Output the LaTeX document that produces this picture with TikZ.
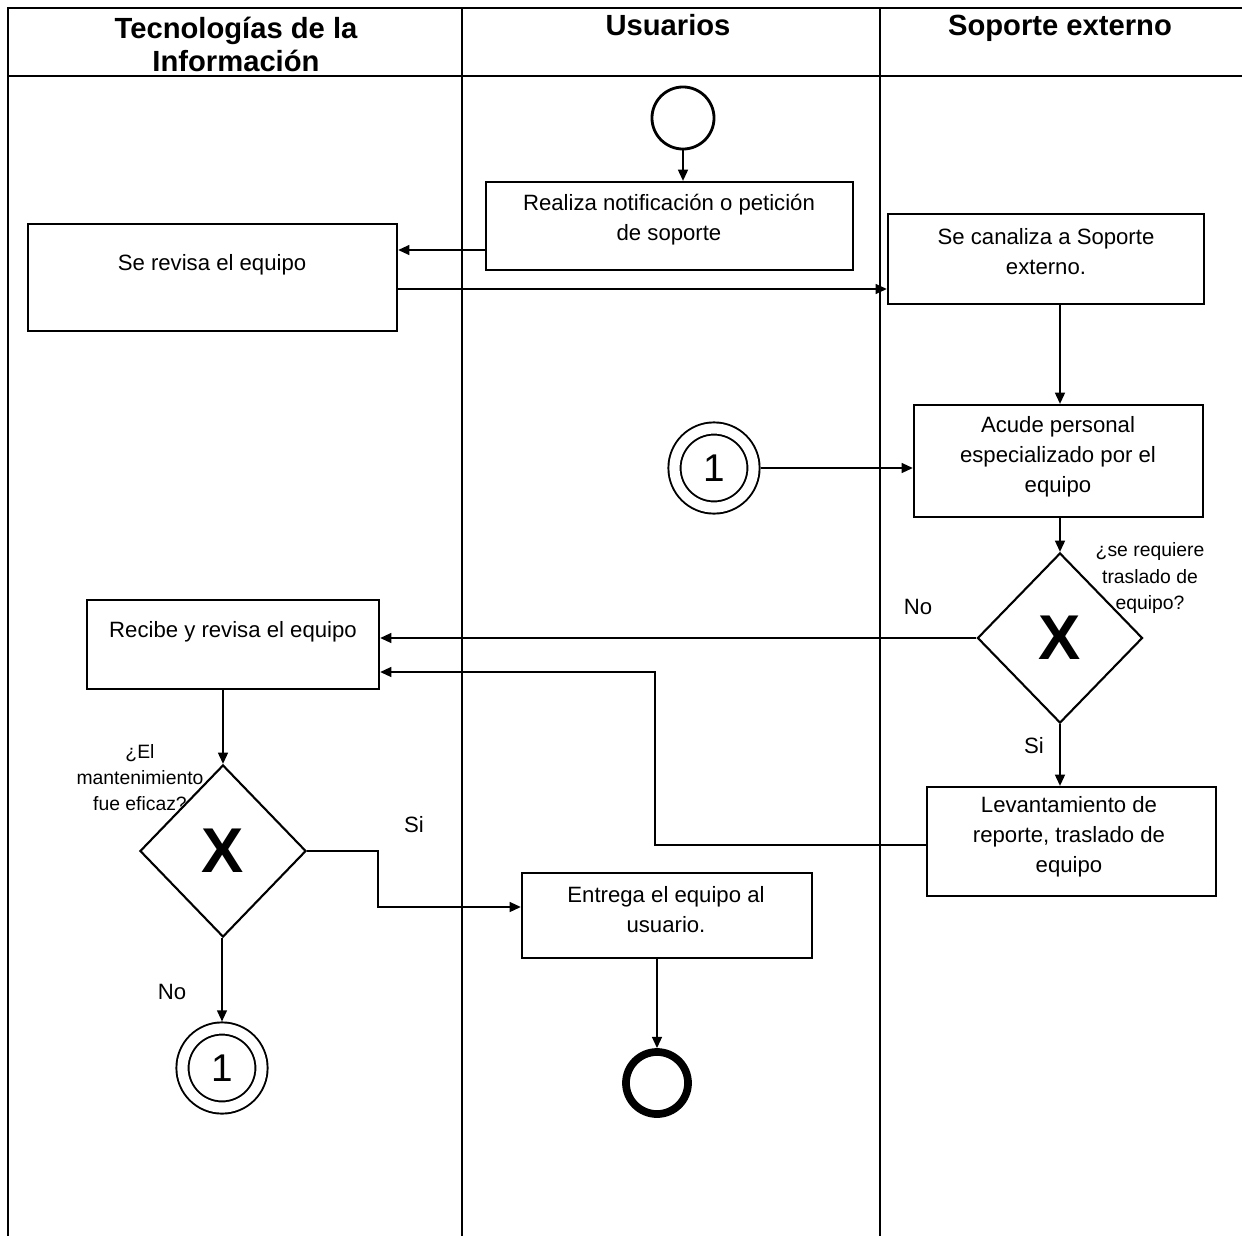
\documentclass[tikz,border=0pt]{standalone}
\usepackage{fontspec}
\setmainfont{Liberation Sans}
\usetikzlibrary{shapes.geometric,arrows.meta}
\begin{document}
\begin{tikzpicture}[x=0.01cm,y=-0.01cm,
  lane/.style={line width=0.8pt},
  box/.style={draw,line width=0.6pt,inner sep=0pt},
  txt/.style={align=center,font=\fontsize{6.3}{8.5}\selectfont,inner sep=0pt},
  small/.style={align=center,font=\fontsize{5.5}{7.4}\selectfont,inner sep=0pt},
  head/.style={align=center,font=\fontsize{8.3}{9.4}\selectfont\bfseries,inner sep=0pt},
  headone/.style={head,text height=0.75em,text depth=0.25em},
  gate/.style={draw,diamond,line width=0.6pt,inner sep=0pt,font=\fontsize{18}{20}\selectfont\bfseries},
  link/.style={circle,draw,double,double distance=2.9pt,line width=0.55pt,inner sep=0pt,font=\fontsize{11}{12}\selectfont},
  arr/.style={line width=0.55pt,-{Triangle[length=3.2pt,width=2.8pt]}}
]
\useasboundingbox (0,0) rectangle (1242,1236);
% lanes
\draw[lane] (8,1236) -- (8,8) -- (1242,8);
\draw[lane] (8,76) -- (1242,76);
\draw[lane] (462,8) -- (462,1236);
\draw[lane] (880,8) -- (880,1236);
\node[head] (h1) at (236,44) {Tecnologías de la\\Información};
\node[headone] (h2) at (668,27) {Usuarios};
\node[headone] (h3) at (1060,27) {Soporte externo};
% events
\node[circle,draw,line width=0.8pt,minimum size=0.62cm,inner sep=0pt] (start) at (683,118) {};
\node[circle,draw,line width=2.2pt,minimum size=0.62cm,inner sep=0pt] (end) at (657,1083) {};
\node[link,minimum size=0.79cm] (c1a) at (714,468) {1};
\node[link,minimum size=0.79cm] (c1b) at (222,1068) {1};
% boxes
\node[box,minimum width=3.67cm,minimum height=0.88cm] (realiza) at (669.5,226) {};
\node[txt] (trealiza) at (669,220) {Realiza notificación o petición\\de soporte};
\node[box,minimum width=3.69cm,minimum height=1.07cm] (revisa) at (212.5,277.5) {};
\node[txt] (trevisa) at (212,265) {Se revisa el equipo};
\node[box,minimum width=3.16cm,minimum height=0.90cm] (canaliza) at (1046,259) {};
\node[txt] (tcanaliza) at (1046,252) {Se canaliza a Soporte\\externo.};
\node[box,minimum width=2.89cm,minimum height=1.12cm] (acude) at (1058.5,461) {};
\node[txt] (tacude) at (1058,457) {Acude personal\\especializado por el\\equipo};
\node[gate,minimum width=1.65cm,minimum height=1.70cm] (d1) at (1060,638) {X};
\node[box,minimum width=2.89cm,minimum height=1.09cm] (levanta) at (1071.5,841.5) {};
\node[txt] (tlevanta) at (1069,837) {Levantamiento de\\reporte, traslado de\\equipo};
\node[box,minimum width=2.92cm,minimum height=0.89cm] (recibe) at (233,644.5) {};
\node[txt] (trecibe) at (233,632) {Recibe y revisa el equipo};
\node[gate,minimum width=1.66cm,minimum height=1.72cm] (d2) at (223,851) {X};
\node[box,minimum width=2.90cm,minimum height=0.85cm] (entrega) at (667,915.5) {};
\node[txt] (tentrega) at (666,910) {Entrega el equipo al\\usuario.};
% labels
\node[small] (q1) at (1150,578) {¿se requiere\\traslado de\\equipo?};
\node[small] (q2) at (140,778) {¿El\\mantenimiento\\fue eficaz?};
\node[txt] (no1) at (918,607) {No};
\node[txt] (si1) at (1034,746) {Si};
\node[txt] (si2) at (414,825) {Si};
\node[txt] (no2) at (172,992) {No};
% connectors
\draw[arr] (start) -- (start |- realiza.north);
\draw[arr] (realiza.west |- 0,250) -- (revisa.east |- 0,250);
\draw[arr] (revisa.east |- 0,289) -- (canaliza.west |- 0,289);
\draw[arr] (canaliza.south -| d1.north) -- (acude.north -| d1.north);
\draw[arr] ([xshift=0.06cm]c1a.east) -- (c1a.east -| acude.west);
\draw[arr] (acude.south -| d1.north) -- (d1.north);
\draw[arr] (d1.west) -- (d1.west -| recibe.east);
\draw[arr] (d1.south) -- (d1.south |- levanta.north);
\draw[arr] (levanta.west |- 0,845) -- (655,845) -- (655,672) -- (recibe.east |- 0,672);
\draw[arr] (recibe.south -| d2.north) -- (d2.north);
\draw[arr] (d2.east) -- (378,851) -- (378,907) -- (entrega.west |- 0,907);
\draw[arr] (d2.south -| c1b.north) -- ([yshift=0.06cm]c1b.north);
\draw[arr] (end.north |- entrega.south) -- (end.north);
\end{tikzpicture}
\end{document}
